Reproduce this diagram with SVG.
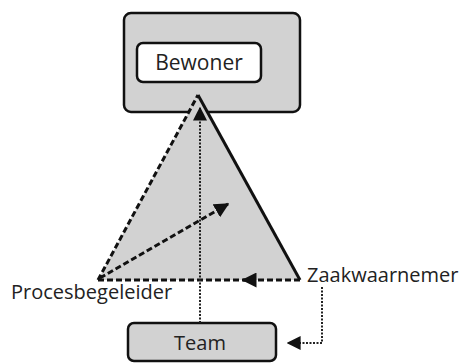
<svg xmlns="http://www.w3.org/2000/svg" width="471" height="363" viewBox="0 0 471 363">
<style>
text{font-family:"Open Sans","Noto Sans",sans-serif;fill:#222}
.dash{fill:none;stroke:#111;stroke-width:3;stroke-dasharray:6 3}
.dot{fill:none;stroke:#222;stroke-width:2;stroke-dasharray:2 1.5}
</style>
<defs>
<marker id="ah" viewBox="0 0 10 10" refX="9" refY="5" markerWidth="5" markerHeight="5" orient="auto" markerUnits="strokeWidth"><path d="M0,0 L10,5 L0,10 z" fill="#111"/></marker>
<marker id="ah2" viewBox="0 0 10 10" refX="9" refY="5" markerWidth="7" markerHeight="7" orient="auto" markerUnits="strokeWidth"><path d="M0,0 L10,5 L0,10 z" fill="#111"/></marker>
</defs>
<g id="bewoner-outer"><rect x="124" y="13" width="176" height="99" rx="7" fill="#d2d2d2" stroke="#111" stroke-width="2.5"/></g>
<g id="triangle"><polygon points="198,95 300,280 98,280" fill="#d2d2d2"/><line x1="198" y1="95" x2="300" y2="280" stroke="#111" stroke-width="3"/></g>
<g id="bewoner"><rect x="137" y="43" width="124" height="39" rx="6" fill="#fff" stroke="#111" stroke-width="2.5"/><text x="199" y="70" font-size="21" text-anchor="middle">Bewoner</text></g>
<g id="team"><rect x="128" y="323" width="148" height="38" rx="6" fill="#d2d2d2" stroke="#111" stroke-width="2.5"/><text x="200" y="350" font-size="20" text-anchor="middle">Team</text></g>
<g id="procesbegeleider"><text x="11" y="299" font-size="20">Procesbegeleider</text></g>
<g id="zaakwaarnemer"><text x="307" y="282" font-size="20">Zaakwaarnemer</text></g>
<g id="connectors">
<path class="dash" d="M98,280 L198,95"/>
<path class="dash" d="M98,280 L245,280"/>
<path class="dash" d="M300,280 L243,280" marker-end="url(#ah)"/>
<path class="dash" d="M100,278 L228,204" marker-end="url(#ah)"/>
<path class="dot" d="M200,323 L200,108" marker-end="url(#ah2)"/>
<path class="dot" d="M322,287 L322,343 L288,343" marker-end="url(#ah2)"/>
</g>
</svg>
